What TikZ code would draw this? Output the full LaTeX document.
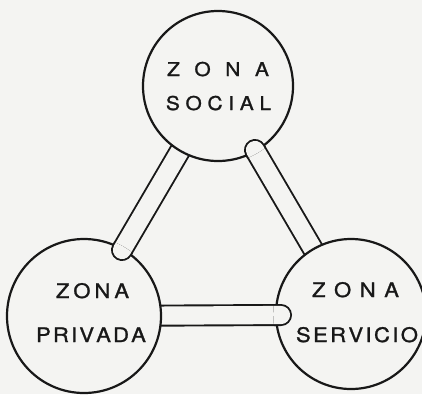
\documentclass[tikz,border=0pt]{standalone}
\usepackage{fontspec}
\setmainfont{TeX Gyre Heros}
\newfontfamily\zf[FakeStretch=1.1,FakeBold=1.3]{TeX Gyre Heros}
\definecolor{paper}{RGB}{244,244,242}
\definecolor{ink}{RGB}{24,24,24}
\pgfdeclarelayer{back}
\pgfdeclarelayer{pipes}
\pgfsetlayers{back,pipes,main}
\begin{document}
\begin{tikzpicture}[x=1pt,y=-1pt,
  zone/.style={circle,draw=ink,fill=paper,line width=2.2pt,minimum size=#1,inner sep=0pt},
  pipeout/.style={line width=22pt,draw=ink,line cap=round},
  pipein/.style={line width=18.2pt,draw=paper,line cap=round},
  lbla/.style={text=ink,anchor=base,inner sep=0pt,font={\zf\fontsize{19}{21}\selectfont}},
  lblb/.style={text=ink,anchor=base,inner sep=0pt,font={\zf\fontsize{20}{22}\selectfont}}]
\begin{pgfonlayer}{back}
\fill[paper] (0,0) rectangle (422,394);
\end{pgfonlayer}
\useasboundingbox (0,0) rectangle (422,394);

% zones
\node[zone=150pt] (S) at (218,86) {};
\node[zone=154pt] (P) at (84,316) {};
\node[zone=150pt] (V) at (351,314) {};
\coordinate (cA) at (122,250);
\coordinate (cB) at (255,150);
\coordinate (cC) at (281,315);

% pipes (hidden ends go under the circles)
\begin{pgfonlayer}{pipes}
\foreach \a/\b in {S/cA,V/cB,P/cC}{
  \draw[pipeout] (\a.center) -- (\b);
  \draw[pipein] (\a.center) -- (\b);
}
\end{pgfonlayer}

% rounded ends lying over the circles
\begin{scope}
\clip (P.center) circle[radius=79.8pt];
\draw[pipeout] (S.center) -- (cA);
\draw[pipein] (S.center) -- (cA);
\end{scope}
\begin{scope}
\clip (S.center) circle[radius=77.8pt];
\draw[pipeout] (V.center) -- (cB);
\draw[pipein] (V.center) -- (cB);
\end{scope}
\begin{scope}
\clip (V.center) circle[radius=77.8pt];
\draw[pipeout] (P.center) -- (cC);
\draw[pipein] (P.center) -- (cC);
\end{scope}

% labels
\node[lbla] (S1) at (218,76) {Z\kern14.6pt O\kern14.6pt N\kern14.6pt A};
\node[lbla] (S2) at (218.5,110) {S\kern5.7pt O\kern5.7pt C\kern5.7pt I\kern5.7pt A\kern5.7pt L};
\node[lblb] (P1) at (92.5,298) {Z\kern4pt O\kern4pt N\kern4pt A};
\node[lblb] (P2) at (91,342) {P\kern2.2pt R\kern2.2pt I\kern2.2pt V\kern2.2pt A\kern2.2pt D\kern2.2pt A};
\node[lblb] (V1) at (355.5,297) {Z\kern8.6pt O\kern8.6pt N\kern8.6pt A};
\node[lblb] (V2) at (357,342) {S\kern2.4pt E\kern2.4pt R\kern2.4pt V\kern2.4pt I\kern2.4pt C\kern2.4pt I\kern2.4pt O};
\end{tikzpicture}
\end{document}
